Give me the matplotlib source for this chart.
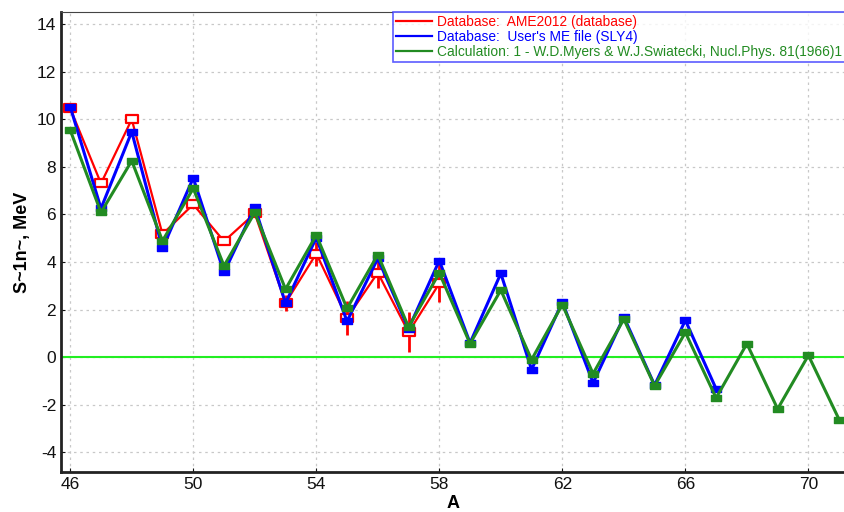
import matplotlib.pyplot as plt
from matplotlib.lines import Line2D
from matplotlib.path import Path

plt.rcParams['font.family'] = ['Liberation Sans', 'DejaVu Sans']
plt.rcParams['axes.unicode_minus'] = False

# AME2012 (database), with uncertainties
a_ame = [46, 47, 48, 49, 50, 51, 52, 53, 54, 55, 56, 57, 58]
s_ame = [10.45, 7.3, 9.99, 5.17, 6.42, 4.87, 6.04, 2.28, 4.35, 1.65, 3.55, 1.05, 3.1]
e_ame = [0.05, 0.05, 0.05, 0.05, 0.05, 0.05, 0.1, 0.35, 0.5, 0.7, 0.65, 0.85, 0.8]

# User's ME file (SLY4)
a_sly = list(range(46, 68))
s_sly = [10.52, 6.25, 9.47, 4.57, 7.53, 3.56, 6.3, 2.27, 5.02, 1.51, 4.15, 1.2,
         4.06, 0.6, 3.52, -0.52, 2.32, -1.08, 1.69, -1.17, 1.55, -1.33]

# Myers & Swiatecki calculation
a_ms = list(range(46, 72))
s_ms = [9.54, 6.08, 8.25, 4.89, 7.09, 3.84, 6.08, 2.86, 5.13, 2.05, 4.31, 1.27,
        3.54, 0.57, 2.82, -0.1, 2.21, -0.69, 1.6, -1.2, 1.04, -1.71, 0.57,
        -2.17, 0.08, -2.62]

labels = ["Database:  AME2012 (database)",
          "Database:  User's ME file (SLY4)",
          "Calculation: 1 - W.D.Myers & W.J.Swiatecki, Nucl.Phys. 81(1966)1"]
colors = ['#ff0000', '#0000ff', '#228b22']

# flat rectangle marker like the original program draws
rect = Path([(-1, -0.6), (1, -0.6), (1, 0.6), (-1, 0.6), (-1, -0.6)],
            [Path.MOVETO, Path.LINETO, Path.LINETO, Path.LINETO, Path.CLOSEPOLY])

fig = plt.figure(figsize=(8.45, 5.12), dpi=100)
ax = fig.add_axes([61 / 845, 40 / 512, 1 - 61 / 845, 460 / 512])

ax.axhline(0, color='#22ee22', lw=1.5, zorder=1)

ax.errorbar(a_ame, s_ame, yerr=e_ame, color=colors[0], lw=1.6, elinewidth=2,
            marker=rect, ms=9, mfc='white', mec=colors[0], mew=1.6, zorder=3)
ax.plot(a_sly, s_sly, color=colors[1], lw=2.2, marker=rect, ms=7, zorder=4)
ax.plot(a_ms, s_ms, color=colors[2], lw=2.2, marker=rect, ms=7, zorder=5)

ax.set_xlim(45.7, 71.19)
ax.set_ylim(-4.82, 14.5)
ax.set_xticks(range(46, 71, 4))
ax.set_yticks(range(-4, 15, 2))
ax.grid(True, color='#c8c8c8', linestyle=(0, (2, 3)), lw=0.9)
ax.set_axisbelow(True)

for side in ['left', 'bottom']:
    ax.spines[side].set_linewidth(2)
    ax.spines[side].set_color('#222222')
ax.spines['top'].set_linewidth(0.8)
ax.spines['top'].set_color('#444444')
ax.spines['right'].set_visible(False)
ax.tick_params(direction='in', length=3, labelsize=12.5, colors='#111111')

ax.set_xlabel('A', fontsize=13, fontweight='bold', labelpad=2)
ax.set_ylabel('S~1n~, MeV', fontsize=13, fontweight='bold', labelpad=4)

handles = [Line2D([], [], color=c, lw=1.6) for c in colors]
leg = ax.legend(handles, labels, loc='upper right', bbox_to_anchor=(1.0, 1.0),
                borderaxespad=0, fontsize=9.9, frameon=True, fancybox=False,
                handlelength=2.6, handletextpad=0.4, borderpad=0.2,
                labelspacing=0.08)
leg.get_frame().set_edgecolor('#3333ff')
leg.get_frame().set_linewidth(1.2)
for txt, c in zip(leg.get_texts(), colors):
    txt.set_color(c)

fig.savefig('out.png', dpi=100)
